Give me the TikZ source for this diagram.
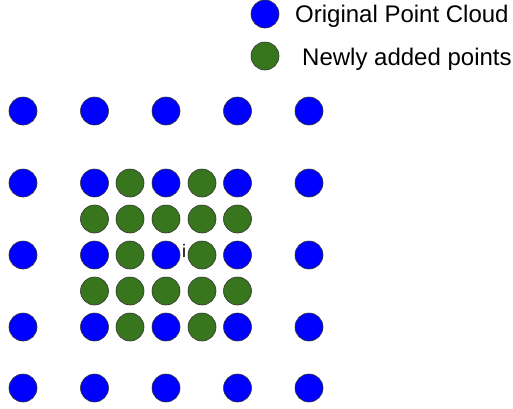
\documentclass[tikz,border=0pt]{standalone}
\usepackage{fontspec}
\setmainfont{Liberation Sans}
\usepackage{xcolor}
\definecolor{origblue}{HTML}{0000FF}
\definecolor{newgreen}{HTML}{38761D}
\usetikzlibrary{positioning}

\begin{document}
\begin{tikzpicture}[
  x=1pt, y=-1pt,
  pt/.style={circle, draw=black!80, line width=0.6pt, minimum size=28pt, inner sep=0pt},
  origpt/.style={pt, fill=origblue},
  newpt/.style={pt, fill=newgreen},
  legtext/.style={anchor=base west, inner sep=0pt, font=\fontsize{24}{28}\selectfont},
]
  \useasboundingbox (0,0) rectangle (513,408);

  % legend
  \node[origpt] (legorig) at (265,14) {};
  \node[newpt] (legnew) at (265,56) {};
  \node[legtext] (legorigtext) at (295,22.5) {Original Point Cloud};
  \node[legtext] (legnewtext) at (302,65) {Newly added points};

  % original point cloud (5x5)
  \foreach \c/\x in {1/23,2/94.5,3/166,4/237.5,5/309}
    \foreach \r/\y in {1/111,2/183,3/255,4/327,5/388}
      \node[origpt] (orig-\r-\c) at (\x,\y) {};

  % newly added points round i
  \foreach \r/\y in {2/219,4/291}
    \foreach \c/\x in {1/94.5,2/130,3/166,4/202,5/237.5}
      \node[newpt] (new-\r-\c) at (\x,\y) {};
  \foreach \r/\y in {1/183,3/255,5/327}
    \foreach \c/\x in {2/130,4/202}
      \node[newpt] (new-\r-\c) at (\x,\y) {};

  \node[anchor=base, inner sep=0pt, font=\fontsize{18}{20}\selectfont] (ilabel) at (184,257) {i};
\end{tikzpicture}
\end{document}
